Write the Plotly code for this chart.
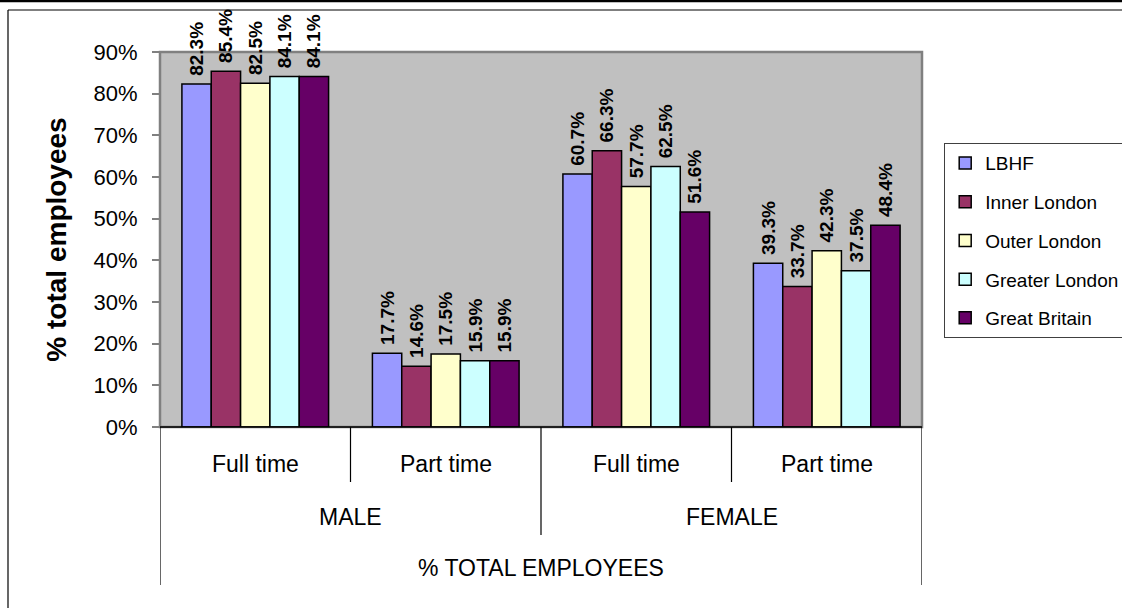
import plotly.graph_objects as go

categories = ["MALE Full time", "MALE Part time", "FEMALE Full time", "FEMALE Part time"]
sub_labels = ["Full time", "Part time", "Full time", "Part time"]
group_labels = ["MALE", "FEMALE"]
series_names = ["LBHF", "Inner London", "Outer London", "Greater London", "Great Britain"]
lbhf = [82.3, 17.7, 60.7, 39.3]
inner_london = [85.4, 14.6, 66.3, 33.7]
outer_london = [82.5, 17.5, 57.7, 42.3]
greater_london = [84.1, 15.9, 62.5, 37.5]
great_britain = [84.1, 15.9, 51.6, 48.4]
series_values = [lbhf, inner_london, outer_london, greater_london, great_britain]
colors = ["#9999FF", "#993366", "#FFFFCC", "#CCFFFF", "#660066"]
y_ticks = [0, 10, 20, 30, 40, 50, 60, 70, 80, 90]

W, H = 1122, 608
L, R, T, B = 160, 200, 52, 181
PW, PH = W - L - R, H - T - B

fig = go.Figure()
for i, (name, vals) in enumerate(zip(series_names, series_values)):
    fig.add_trace(go.Bar(
        x=categories, y=vals, name=name,
        marker=dict(color=colors[i], line=dict(color="black", width=1.5)),
        text=[f"\u00a0{v:.1f}%" for v in vals],
        textposition="outside", textangle=-90, constraintext="none",
        textfont=dict(family="Arial, Liberation Sans", size=19, color="black", weight="bold"),
        cliponaxis=False, legendgroup=name,
    ))

def px_x(p):
    return (p - L) / PW

def px_y(p):
    return (H - B - p) / PH

shapes = []
# plot frame (gray)
shapes.append(dict(type="rect", xref="paper", yref="paper", x0=0, x1=1, y0=0, y1=1,
                   line=dict(color="#808080", width=2.5), layer="below"))
# bottom axis line (black)
shapes.append(dict(type="line", xref="paper", yref="paper", x0=0, x1=1, y0=0, y1=0,
                   line=dict(color="black", width=1.5), layer="above"))
# category dividers
div_bottoms = [585, 482, 535, 482, 585]
for k, yb in enumerate(div_bottoms):
    shapes.append(dict(type="line", xref="x", yref="paper", x0=k - 0.5, x1=k - 0.5,
                       y0=0, y1=px_y(yb), line=dict(color="black", width=1.2)))
# outer frame
shapes.append(dict(type="line", xref="paper", yref="paper", x0=px_x(0), x1=px_x(W),
                   y0=px_y(1), y1=px_y(1), line=dict(color="black", width=2.5)))
shapes.append(dict(type="line", xref="paper", yref="paper", x0=px_x(8), x1=px_x(W),
                   y0=px_y(10), y1=px_y(10), line=dict(color="black", width=1.2)))
shapes.append(dict(type="line", xref="paper", yref="paper", x0=px_x(8), x1=px_x(8),
                   y0=px_y(10), y1=px_y(608), line=dict(color="black", width=1.2)))

annotations = []
lab_font = dict(family="Arial, Liberation Sans", size=23, color="black")
for k, lab in enumerate(sub_labels):
    annotations.append(dict(x=categories[k], xref="x", y=px_y(464), yref="paper",
                            yanchor="middle", text=lab, showarrow=False, font=lab_font))
for g, lab in enumerate(group_labels):
    annotations.append(dict(x=0.5 + 2 * g, xref="x", y=px_y(517), yref="paper",
                            yanchor="middle", text=lab, showarrow=False, font=lab_font))
annotations.append(dict(x=1.5, xref="x", y=px_y(568), yref="paper", yanchor="middle",
                        text="% TOTAL EMPLOYEES", showarrow=False, font=lab_font))

fig.update_layout(
    width=W, height=H,
    margin=dict(l=L, r=R, t=T, b=B, autoexpand=False),
    paper_bgcolor="white", plot_bgcolor="#C0C0C0",
    barmode="group", bargap=0.23, bargroupgap=0,
    font=dict(family="Arial, Liberation Sans", color="black"),
    showlegend=True,
    legend=dict(x=px_x(944), xanchor="left", y=px_y(143), yanchor="top",
                xref="paper", yref="paper",
                bordercolor="#404040", borderwidth=1.2, bgcolor="white",
                font=dict(family="Arial, Liberation Sans", size=19, color="black"),
                traceorder="grouped", tracegroupgap=11, itemwidth=30),
    xaxis=dict(type="category", showticklabels=False, ticks="", showgrid=False,
               range=[-0.5, 3.5], showline=False, zeroline=False),
    yaxis=dict(range=[0, 90], tickvals=y_ticks, ticktext=[f"{v}%" for v in y_ticks],
               ticks="outside", ticklen=7, tickcolor="#808080", tickwidth=1.5,
               ticklabelstandoff=10,
               showgrid=False, zeroline=False, showline=False,
               tickfont=dict(family="Arial, Liberation Sans", size=22, color="black"),
               title=dict(text="<b>% total employees</b>", standoff=18,
                          font=dict(family="Arial, Liberation Sans", size=28, color="black"))),
    shapes=shapes, annotations=annotations,
)

fig.write_html("out.html")
